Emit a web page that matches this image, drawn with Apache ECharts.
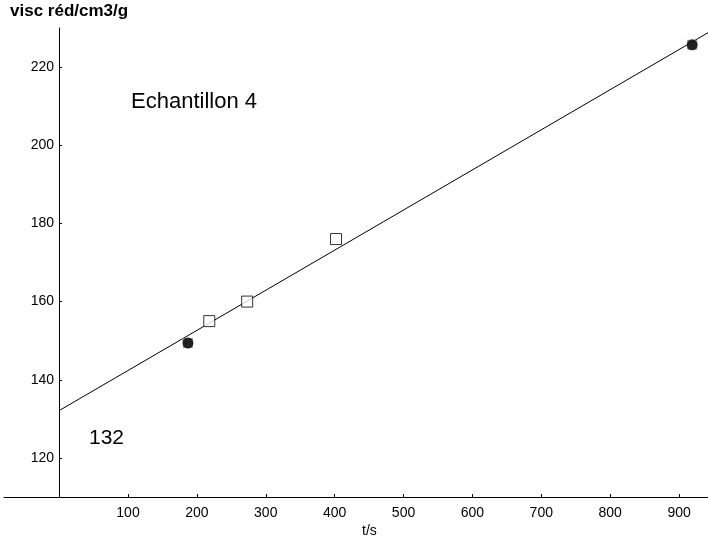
<!DOCTYPE html>
<html>
<head>
<meta charset="utf-8">
<script src="https://cdn.jsdelivr.net/npm/echarts@6/dist/echarts.min.js"></script>
<style>html,body{margin:0;padding:0;background:#fff}#c{width:708px;height:541px}</style>
</head>
<body>
<div id="c"></div>
<script>
// Data
const xTicks = [100, 200, 300, 400, 500, 600, 700, 800, 900];
const yTicks = [120, 140, 160, 180, 200, 220];
const filledPoints = [[187, 149.4], [919, 225.7]];
const openPoints = [[218, 155.0], [273, 160.0], [402, 176.0]];
const fitLine = [[0, 132.1], [942, 228.8]];
const title = 'Echantillon 4';
const interceptLabel = '132';
const yName = 'visc réd/cm3/g';
const xName = 't/s';

const font = 'Liberation Sans, Arial, sans-serif';
const chart = echarts.init(document.getElementById('c'), null, {renderer: 'canvas'});
chart.setOption({
  backgroundColor: '#fff',
  animation: false,
  grid: {left: 4, right: 0, top: 28, bottom: 44, containLabel: false, outerBoundsMode: 'none'},
  xAxis: {
    type: 'value', min: -80, max: 942,
    axisLine: {onZero: false, lineStyle: {color: '#000', width: 1}},
    axisTick: {show: true, inside: true, length: 3, customValues: xTicks, lineStyle: {color: '#000'}},
    axisLabel: {customValues: xTicks, color: '#000', fontFamily: font, fontSize: 14, margin: 9},
    splitLine: {show: false}
  },
  yAxis: {
    type: 'value', min: 110, max: 230, offset: -55,
    axisLine: {show: true, onZero: false, lineStyle: {color: '#000', width: 1}},
    axisTick: {show: true, inside: true, length: 3, customValues: yTicks, lineStyle: {color: '#000'}},
    axisLabel: {customValues: yTicks, color: '#000', fontFamily: font, fontSize: 14, margin: 5},
    splitLine: {show: false}
  },
  graphic: [
    {type: 'text', left: 10, top: 3, style: {text: yName, font: 'bold 17px ' + font, fill: '#000'}},
    {type: 'text', left: 362, top: 524, style: {text: xName, font: '14px ' + font, fill: '#000'}},
    {type: 'text', left: 131, top: 91, style: {text: title, font: '22px ' + font, fill: '#000'}},
    {type: 'text', left: 89, top: 428, style: {text: interceptLabel, font: '21px ' + font, fill: '#000'}}
  ],
  series: [
    {type: 'line', data: fitLine, showSymbol: false, symbol: 'none',
     lineStyle: {color: '#000', width: 1}, z: 1},
    {type: 'scatter', data: openPoints, symbol: 'rect', symbolSize: 11,
     itemStyle: {color: '#fff', borderColor: '#000', borderWidth: 1}, z: 3},
    {type: 'scatter', data: filledPoints, symbol: 'rect', symbolSize: 10,
     itemStyle: {color: '#888'}, z: 3},
    {type: 'scatter', data: filledPoints, symbol: 'circle', symbolSize: 11,
     itemStyle: {color: '#000'}, z: 4}
  ]
});
</script>
</body>
</html>
